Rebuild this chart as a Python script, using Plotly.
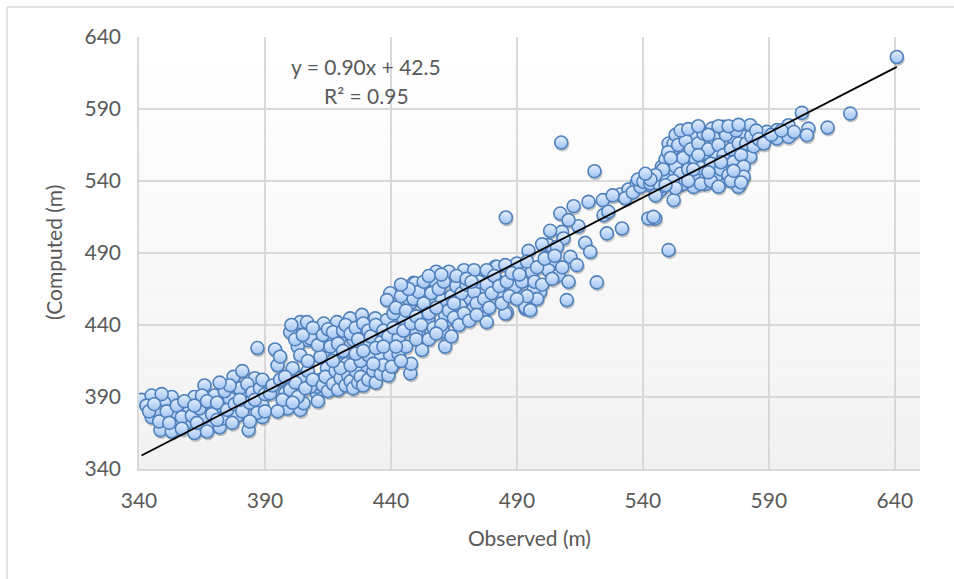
import plotly.graph_objects as go

# ---------------- data ----------------
obs_a = [341, 345, 345, 348.5, 353, 350, 354, 353, 360, 359, 362, 362, 366, 370, 370, 368, 372, 376, 379, 383.5,
         377.5, 381, 382, 387, 386, 389, 389, 365, 366, 356, 347, 343, 348, 351, 355, 357, 358, 361, 363, 364,
         367, 369, 371, 373, 374, 375, 377, 378, 380, 381, 383, 384, 385, 387, 388, 384, 376, 372, 380, 386,
         389, 390, 390, 367, 357, 344, 349, 352, 346, 362, 371]
comp_a = [388, 391, 376, 367, 390, 386, 379, 366, 381, 372, 365, 390, 398, 391, 382, 370, 369, 389, 377, 367,
          404, 408, 390, 424, 403, 384, 376, 391, 376, 372, 381, 384, 373, 380, 384, 376, 387, 377, 372, 382,
          387, 378, 386, 375, 394, 381, 372, 385, 396, 380, 399, 386, 393, 379, 396, 373, 398, 400, 388, 388,
          402, 380, 392, 366, 368, 380, 392, 372, 385, 384, 374]

obs_b = [394, 395, 392, 398, 399, 404, 401, 404, 400, 407, 403, 405, 410.6, 414.6, 412.6, 410.6,
         404, 416, 422.5, 430.5, 426.5, 421, 432.5, 438.4, 440.4, 416.6, 412, 408, 404, 405.3, 406.7, 413.3,
         418.6, 423.8, 428.5, 433.8, 438.4, 408, 414.6, 419.9, 425.2, 430.5, 435.8, 439.7,
         393, 396, 397, 400, 402, 403, 406, 407, 409, 411, 413, 414, 415, 417, 418, 419, 420, 422, 423, 424,
         425, 426, 427, 428, 429, 431, 433, 434, 436, 437, 439, 420, 424, 428, 418, 412, 407, 396, 398, 401, 395,
         402, 405, 409, 411, 413, 415, 416, 417, 419, 421, 422, 424, 426, 427, 429, 431, 432, 434, 436, 437, 439,
         421, 426, 431, 434, 429, 417, 433, 437, 400.5]
comp_b = [423, 412, 392.5, 392.5, 382, 381, 410, 442, 435, 429.5, 425, 404, 392.5, 410, 436, 397,
          419, 418, 413, 411, 402, 400.6, 404, 410, 412, 404, 402, 397, 403, 385.6, 442, 441,
          442, 444.6, 447, 444.6, 443.4, 430.7, 429.5, 431.8, 429.5, 427.2, 418, 419,
          398, 402, 388, 395, 400, 390, 396, 408, 402, 387, 398, 404, 394, 399, 408, 395, 403, 398, 405, 401,
          396, 408, 400, 404, 398, 402, 408, 400, 406, 412, 405, 410, 412, 415, 420, 418, 415, 418, 404, 386, 380,
          430, 433, 438, 426, 433, 437, 425, 435, 427, 436, 440, 434, 438, 430, 441, 436, 432, 440, 428, 436, 432,
          422, 420, 419, 424, 422, 415, 413, 425, 440]

obs_c = [458, 463, 469, 473, 481.4, 449, 457, 439.7, 438.4, 447.7, 454.3, 460.2, 467.5, 471.5, 476, 476.7,
         472.8, 462.2, 454.3, 445, 441, 443, 451, 461.5, 452.3, 447.7, 461.5, 476.7, 482, 485.6, 492, 490,
         489.3, 482, 485.4, 478, 483.4, 476.7, 476, 486, 460.7, 450.1, 454.8, 440.3, 449.6, 485.4, 493.3,
         441, 442, 444, 445, 446, 448, 449, 450, 451, 452, 453, 455, 456, 457, 458, 459, 460, 461, 463, 464,
         465, 466, 467, 468, 469, 470, 471, 473, 474, 475, 477, 478, 479, 480, 481, 483, 484, 486, 487, 488,
         443, 446, 450, 455, 458, 464, 448, 444, 442, 453, 447, 444, 455, 460, 466, 470, 472, 465, 478, 474]
comp_c = [477, 477, 478, 478, 480.4, 469.3, 471, 462, 457.3, 455, 451.5, 457.3, 453.8, 458.5, 461, 448,
          451.5, 443.4, 444.6, 444.6, 448, 430.7, 434.2, 425, 422.6, 406.4, 447, 466.5, 471, 514.7, 478, 482.7,
          466.5, 480.4, 481.6, 478, 460.8, 463, 448, 449, 435.3, 435.3, 444.6, 411, 469, 448, 451.4,
          438, 452, 460, 436, 450, 441, 458, 446, 463, 440, 455, 448, 462, 438, 452, 465, 440, 470, 450, 460,
          445, 467, 440, 462, 448, 468, 443, 463, 455, 470, 458, 468, 452, 462, 474, 467, 455, 470, 460, 476,
          420, 425, 430, 430, 434, 432, 413, 415, 425, 470, 465, 468, 474, 475, 474, 472, 470, 455, 442, 447]

obs_d = [507.6, 520.8, 550.2, 507.2, 512.5, 518.4, 524.1, 524.4, 526.3, 531, 534.3, 537.6, 542.9, 542.2,
         544.9, 531.7, 525.7, 514.4, 510.5, 507.9, 503.2, 508.5, 502.5, 505.9, 494.6, 517.1, 519.1, 511.2,
         513.8, 503.9, 502.5, 506.5, 510.5, 521.7, 509.8, 496, 499.2, 496.6, 493.3, 495.3,
         492, 494, 497, 498, 500, 501, 504, 505, 508, 498, 494, 490, 491, 500, 528, 533, 536, 539, 538]
comp_d = [566.7, 546.8, 492, 517.4, 522.5, 525.5, 526.7, 516.3, 518.6, 530.6, 534.1, 538.3, 537.1, 514,
          514, 507, 503.6, 508.6, 512.8, 504.7, 505.4, 500.1, 495.5, 494.3, 491.5, 497, 490.8, 487.3,
          481.6, 483.9, 478, 474.6, 470, 469.6, 457.3, 476.9, 463, 464.2, 452.6, 450.3,
          470, 484, 470, 480, 468, 486, 472, 488, 480, 458, 460, 458, 475, 496, 530, 528, 532, 536, 541]

obs_e = [550.2, 551.5, 551.5, 547.5, 552.2, 546.9, 540.2, 544.2, 542.9, 550.8, 552.2, 556.1, 560.1, 567.4,
         572, 575.3, 579.9, 564, 569.4, 568, 558.8, 557.5, 564, 572, 574, 560.1, 548.2, 546.9, 554.8, 582.6,
         582.6, 578.6, 577.9, 589.2,
         549, 550, 553, 553, 554, 555, 556, 557, 558, 559, 560, 561, 562, 563, 564, 565, 566, 567, 568, 569,
         570, 571, 572, 573, 574, 575, 576, 577, 578, 579, 580, 581, 583, 584, 585, 586, 555, 558, 562, 566,
         570, 574, 578, 560, 563, 567, 570, 575, 580, 548, 545, 543, 541, 556, 552, 551, 571, 566, 562, 576,
         579, 553, 558, 545, 549]
comp_e = [566, 561.4, 546.3, 549.8, 526.7, 533.6, 539.4, 515.1, 538.3, 546.3, 566, 562.6, 570.7, 576.4,
          577.6, 570.7, 570.7, 559.1, 556.7, 545.2, 554.4, 542.8, 541.7, 540.6, 549.8, 535.9, 542.8, 535.9,
          538.3, 578.7, 556.7, 545.2, 535.9, 574.1,
          555, 560, 550, 572, 565, 545, 556, 568, 548, 562, 543, 555, 566, 549, 573, 538, 562, 552, 570, 543,
          565, 548, 558, 572, 544, 562, 553, 575, 566, 558, 550, 566, 571, 564, 575, 569, 575, 576, 578, 572,
          578, 578, 579, 548, 538, 540, 536, 540, 543, 548, 544, 541, 545, 538, 540, 556, 553, 546, 558, 547,
          539, 535, 540, 530, 537]

obs_f = [593.2, 593.2, 597.8, 597.8, 603.1, 605.7, 605.1, 613.3, 622.3, 640.8, 588, 591, 600, 595]
comp_f = [575.3, 569.5, 578.7, 570.6, 587.3, 576.4, 571.8, 577.1, 586.8, 626.1, 566, 572, 574, 575]

observed = obs_a + obs_b + obs_c + obs_d + obs_e + obs_f
computed = comp_a + comp_b + comp_c + comp_d + comp_e + comp_f

slope, intercept = 0.90, 42.5
eq_text = "y = 0.90x + 42.5"
r2_text = "R² = 0.95"

x_ticks = [340, 390, 440, 490, 540, 590, 640]
y_ticks = [340, 390, 440, 490, 540, 590, 640]
x_range = [340, 650]
y_range = [340, 640]

# ---------------- figure ----------------
W, H = 954, 579
L, R, T, B = 139, 34, 37, 110
pw, ph = W - L - R, H - T - B
FONT = "Lato"
GRAY = "#595959"
GRID = "#d9d9d9"

px_x = (x_range[1] - x_range[0]) / pw
px_y = (y_range[1] - y_range[0]) / ph

fig = go.Figure()

# empty trace so the base subplot (grid, ticks) is always built
fig.add_trace(go.Scatter(x=[], y=[], xaxis="x", yaxis="y", showlegend=False, hoverinfo="skip"))

# shadow layer (same data, axes shifted by a couple of pixels)
fig.add_trace(go.Scatter(
    x=observed, y=computed, mode="markers", xaxis="x2", yaxis="y2",
    marker=dict(size=14, color="rgba(0,0,0,0.22)", line=dict(width=0)),
    hoverinfo="skip", showlegend=False))

fig.add_trace(go.Scatter(
    x=observed, y=computed, mode="markers", xaxis="x3", yaxis="y3",
    marker=dict(size=13, color="#e6effd",
                gradient=dict(type="vertical", color="#9ec2f2"),
                line=dict(color="#4f81bd", width=1.6)),
    showlegend=False))

xmin, xmax = min(observed), max(observed)
fig.add_trace(go.Scatter(
    x=[xmin, xmax], y=[slope * xmin + intercept, slope * xmax + intercept],
    mode="lines", xaxis="x3", yaxis="y3",
    line=dict(color="black", width=1.8), showlegend=False))

# plot-area gradient background
n = 30
for i in range(n):
    t = i / (n - 1)
    c = int(round(242 + (255 - 242) * t))
    fig.add_shape(type="rect", xref="paper", yref="paper",
                  x0=0, x1=1, y0=i / n, y1=(i + 1) / n,
                  fillcolor=f"rgb({c},{c},{c})", line=dict(width=0), layer="below")

# outer chart frame
fx = (7 - L) / pw
fy = (H - B - 7) / ph
fig.add_shape(type="line", xref="paper", yref="paper", x0=fx, x1=(W - L) / pw, y0=fy, y1=fy,
              line=dict(color=GRID, width=1.5))
fig.add_shape(type="line", xref="paper", yref="paper", x0=fx, x1=fx, y0=fy, y1=-B / ph,
              line=dict(color=GRID, width=1.5))

axis_common = dict(showgrid=True, gridcolor=GRID, gridwidth=1.6, zeroline=False,
                   showline=True, linecolor=GRID, linewidth=1.6,
                   tickfont=dict(family=FONT, size=21, color=GRAY), ticks="")
fig.update_layout(
    width=W, height=H,
    margin=dict(l=L, r=R, t=T, b=B),
    paper_bgcolor="white", plot_bgcolor="rgba(0,0,0,0)",
    xaxis=dict(range=x_range, tickmode="array", tickvals=x_ticks, ticklabelstandoff=12, **axis_common),
    yaxis=dict(range=y_range, tickmode="array", tickvals=y_ticks, ticklabelstandoff=12, **axis_common),
    xaxis2=dict(range=[x_range[0] - 1.0 * px_x, x_range[1] - 1.0 * px_x], overlaying="x",
                visible=False),
    yaxis2=dict(range=[y_range[0] + 2.0 * px_y, y_range[1] + 2.0 * px_y], overlaying="y",
                visible=False),
    xaxis3=dict(range=x_range, overlaying="x", visible=False),
    yaxis3=dict(range=y_range, overlaying="y", visible=False),
    annotations=[
        dict(text="Observed (m)", xref="paper", yref="paper",
             x=(529 - L) / pw, y=(H - B - 537) / ph, showarrow=False,
             font=dict(family=FONT, size=21, color=GRAY), xanchor="center", yanchor="middle"),
        dict(text="(Computed (m)", xref="paper", yref="paper",
             x=(53 - L) / pw, y=(H - B - 253) / ph, showarrow=False, textangle=-90,
             font=dict(family=FONT, size=21, color=GRAY), xanchor="center", yanchor="middle"),
        dict(text=eq_text, xref="paper", yref="paper",
             x=(366 - L) / pw, y=(H - B - 66) / ph, showarrow=False,
             font=dict(family=FONT, size=21, color=GRAY), xanchor="center", yanchor="middle"),
        dict(text=r2_text, xref="paper", yref="paper",
             x=(366 - L) / pw, y=(H - B - 95) / ph, showarrow=False,
             font=dict(family=FONT, size=21, color=GRAY), xanchor="center", yanchor="middle"),
    ],
)

fig.write_html("out.html", config={"displayModeBar": False},
               post_script="document.body.style.margin='0';document.body.style.overflow='hidden';")
